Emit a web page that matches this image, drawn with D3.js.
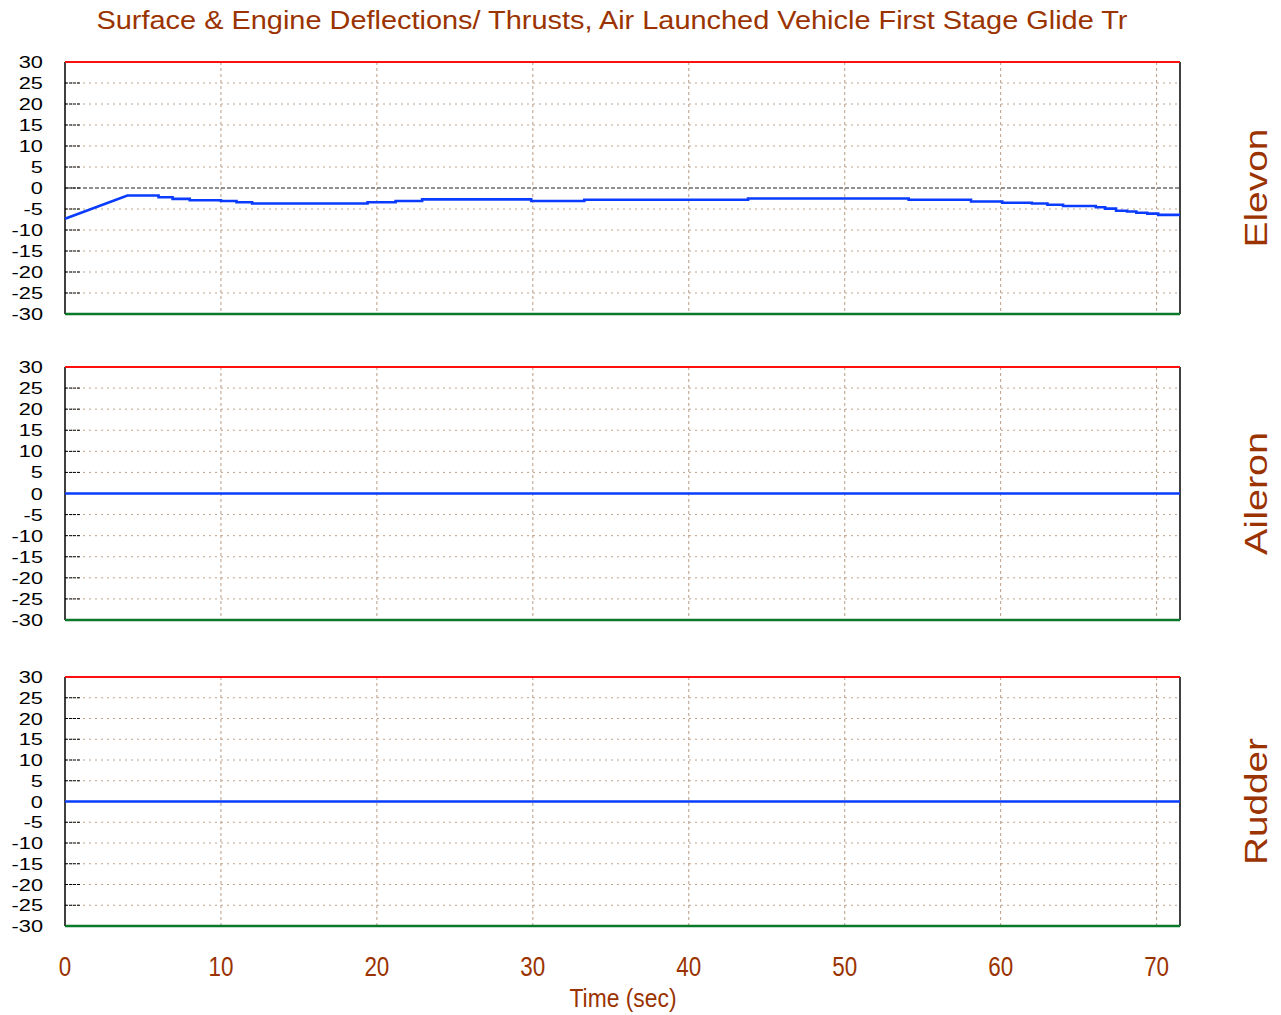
<!DOCTYPE html>
<html>
<head>
<meta charset="utf-8">
<script src="https://cdn.jsdelivr.net/npm/d3@7"></script>
<style>
  html, body { margin: 0; padding: 0; background: #ffffff; }
  svg { display: block; font-family: "Liberation Sans", Arial, sans-serif; }
</style>
</head>
<body>
<svg id="chart" width="1281" height="1015"></svg>
<script>
// Elevon deflection history (deg): ramp, then small steps
const elevonTime  = [0, 4.0, 6.0, 6.0, 6.9, 6.9, 8.0, 8.0, 10.0, 10.0, 11.0, 11.0, 12.0, 12.0, 19.4, 19.4, 21.2, 21.2, 22.9, 22.9, 29.9, 29.9, 33.3, 33.3, 43.8, 43.8, 54.1, 54.1, 58.1, 58.1, 60.1, 60.1, 62.0, 62.0, 63.0, 63.0, 64.0, 64.0, 66.1, 66.1, 66.7, 66.7, 67.4, 67.4, 68.1, 68.1, 68.7, 68.7, 69.4, 69.4, 70.1, 70.1, 71.5];
const elevonValue = [-7.3, -1.8, -1.8, -2.2, -2.2, -2.6, -2.6, -2.9, -2.9, -3.1, -3.1, -3.4, -3.4, -3.7, -3.7, -3.4, -3.4, -3.1, -3.1, -2.7, -2.7, -3.1, -3.1, -2.8, -2.8, -2.5, -2.5, -2.8, -2.8, -3.2, -3.2, -3.5, -3.5, -3.7, -3.7, -4.0, -4.0, -4.3, -4.3, -4.6, -4.6, -4.9, -4.9, -5.4, -5.4, -5.6, -5.6, -5.9, -5.9, -6.1, -6.1, -6.4, -6.4];
// Aileron and rudder stay at zero for the whole glide
const aileronTime  = [0, 71.5];
const aileronValue = [0, 0];
const rudderTime   = [0, 71.5];
const rudderValue  = [0, 0];

const panelNames = ["Elevon", "Aileron", "Rudder"];
const yTicks = [30, 25, 20, 15, 10, 5, 0, -5, -10, -15, -20, -25, -30];
const xTicks = [0, 10, 20, 30, 40, 50, 60, 70];
const titleText = "Surface & Engine Deflections/ Thrusts, Air Launched Vehicle First Stage Glide Tr";
const xLabel = "Time (sec)";

const BROWN = "#9a3300";
const svg = d3.select("#chart");

// stretch or squeeze a text element horizontally by a factor
function stretch(sel, factor) {
  sel.each(function () {
    const w = this.getComputedTextLength();
    d3.select(this).attr("textLength", w * factor).attr("lengthAdjust", "spacingAndGlyphs");
  });
}

const left = 65, right = 1180;
const x = d3.scaleLinear().domain([0, 71.5]).range([left, right]);

const panels = [
  { top: 62,  bottom: 314, t: elevonTime,  v: elevonValue,  name: panelNames[0], len: 119 },
  { top: 367, bottom: 620, t: aileronTime, v: aileronValue, name: panelNames[1], len: 123 },
  { top: 677, bottom: 926, t: rudderTime,  v: rudderValue,  name: panelNames[2], len: 127 }
];

// Title
svg.append("text")
  .attr("x", 612).attr("y", 29)
  .attr("text-anchor", "middle")
  .attr("fill", BROWN)
  .attr("font-size", 25)
  .attr("textLength", 1031).attr("lengthAdjust", "spacingAndGlyphs")
  .text(titleText);

panels.forEach(p => {
  const y = d3.scaleLinear().domain([-30, 30]).range([p.bottom, p.top]);
  const g = svg.append("g");

  // horizontal dotted grid
  g.selectAll(".hgrid").data(yTicks.filter(d => d !== 30 && d !== -30 && d !== 0))
    .enter().append("line")
    .attr("x1", left).attr("x2", right)
    .attr("y1", d => y(d)).attr("y2", d => y(d))
    .attr("stroke", "#bda28a").attr("stroke-width", 1)
    .attr("stroke-dasharray", "2,4");

  // vertical dashed grid
  g.selectAll(".vgrid").data(xTicks.filter(d => d !== 0))
    .enter().append("line")
    .attr("x1", d => x(d)).attr("x2", d => x(d))
    .attr("y1", p.top).attr("y2", p.bottom)
    .attr("stroke", "#b89c84").attr("stroke-width", 1)
    .attr("stroke-dasharray", "3,3");

  // tick stubs on the left edge
  g.selectAll(".stub").data(yTicks.filter(d => d !== 30 && d !== -30))
    .enter().append("line")
    .attr("x1", left).attr("x2", left + 16)
    .attr("y1", d => y(d)).attr("y2", d => y(d))
    .attr("stroke", "#000").attr("stroke-width", 1)
    .attr("stroke-dasharray", "3,1");

  // zero reference line
  g.append("line")
    .attr("x1", left).attr("x2", right)
    .attr("y1", y(0)).attr("y2", y(0))
    .attr("stroke", "#222").attr("stroke-width", 1)
    .attr("stroke-dasharray", "4,2");

  // frame: black sides, red upper limit, green lower limit
  g.append("line").attr("x1", left).attr("x2", left).attr("y1", p.top).attr("y2", p.bottom)
    .attr("stroke", "#000").attr("stroke-width", 1.5);
  g.append("line").attr("x1", right).attr("x2", right).attr("y1", p.top).attr("y2", p.bottom)
    .attr("stroke", "#000").attr("stroke-width", 1.5);
  g.append("line").attr("x1", left).attr("x2", right).attr("y1", y(30)).attr("y2", y(30))
    .attr("stroke", "#ff1010").attr("stroke-width", 2);
  g.append("line").attr("x1", left).attr("x2", right).attr("y1", y(-30)).attr("y2", y(-30))
    .attr("stroke", "#0a7a2a").attr("stroke-width", 2.5);

  // y tick labels
  g.selectAll(".ylab").data(yTicks).enter().append("text")
    .attr("x", 43).attr("y", d => y(d) + 6)
    .attr("text-anchor", "end")
    .attr("font-size", 17)
    .attr("fill", "#000")
    .text(d => d)
    .call(stretch, 1.28);

  // series line
  const pts = p.t.map((t, i) => [t, p.v[i]]);
  const line = d3.line().x(d => x(d[0])).y(d => y(d[1]));
  g.append("path").datum(pts)
    .attr("d", line)
    .attr("fill", "none")
    .attr("stroke", "#0a3cff")
    .attr("stroke-width", 2.6);

  // panel name on the right
  const cy = (p.top + p.bottom) / 2;
  g.append("text")
    .attr("transform", `translate(1267,${cy}) rotate(-90)`)
    .attr("text-anchor", "middle")
    .attr("font-size", 31)
    .attr("fill", BROWN)
    .attr("textLength", p.len).attr("lengthAdjust", "spacingAndGlyphs")
    .text(p.name);
});

// x tick labels
svg.selectAll(".xlab").data(xTicks).enter().append("text")
  .attr("x", d => x(d)).attr("y", 976)
  .attr("text-anchor", "middle")
  .attr("font-size", 27)
  .attr("fill", BROWN)
  .text(d => d)
  .call(stretch, 0.83);

svg.append("text")
  .attr("x", 623).attr("y", 1007)
  .attr("text-anchor", "middle")
  .attr("font-size", 26)
  .attr("fill", BROWN)
  .attr("textLength", 107).attr("lengthAdjust", "spacingAndGlyphs")
  .text(xLabel);
</script>
</body>
</html>
